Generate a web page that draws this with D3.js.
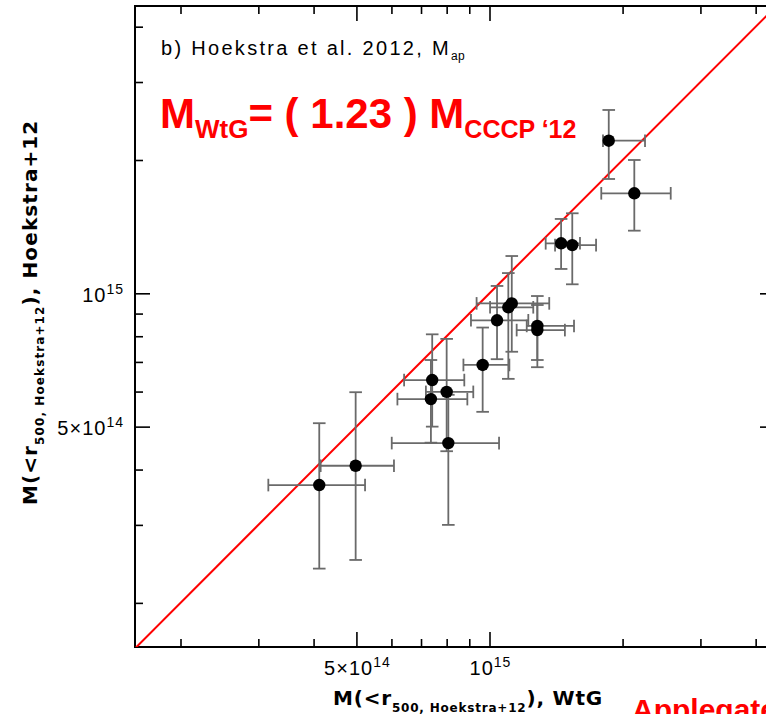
<!DOCTYPE html>
<html><head><meta charset="utf-8">
<script src="https://cdn.jsdelivr.net/npm/d3@7"></script>
<style>body{margin:0;background:#fff;} svg{display:block;}</style>
</head><body>
<svg id="chart" width="766" height="714"></svg>
<script>
// ---- data (masses in units of 1e14 Msun) ----
const massUnit = 1e14;
const xWtG     = [4.12, 4.98, 7.42, 7.37, 8.00, 8.07, 9.65, 10.40, 11.03, 11.23, 12.83, 12.83, 14.52, 15.39, 18.61, 21.26];
const xWtGLow  = [3.16, 4.15, 6.41, 6.19, 7.18, 6.01, 8.73, 9.08, 10.03, 9.35, 12.14, 11.52, 13.40, 14.07, 18.06, 17.90];
const xWtGHigh = [5.23, 6.08, 8.77, 8.91, 9.19, 10.51, 11.09, 12.24, 12.56, 13.65, 15.53, 14.81, 16.02, 17.42, 22.48, 25.70];
const yH12     = [3.69, 4.08, 6.37, 5.77, 5.99, 4.59, 6.89, 8.69, 9.30, 9.49, 8.44, 8.26, 12.97, 12.85, 22.11, 16.82];
const yH12Low  = [2.39, 2.50, 5.00, 4.60, 4.40, 3.00, 5.40, 7.10, 6.41, 7.38, 7.07, 6.81, 11.35, 10.48, 18.12, 13.85];
const yH12High = [5.09, 5.98, 8.08, 7.07, 7.89, 5.90, 8.37, 10.39, 11.11, 12.14, 9.86, 9.41, 14.72, 15.16, 25.94, 20.00];

const xDomain = [1.578e14, 4.424e15];
const yDomain = [1.590e14, 4.454e15];
const majorTicks = [5e14, 1e15];
const majorMantissa = ["5\u00d710", "10"];
const majorExponent = ["14", "15"];
const minorTicks = [2e14, 3e14, 4e14, 6e14, 7e14, 8e14, 9e14, 2e15, 3e15, 4e15];
const lineRatio = 1.0; // one-to-one line

// ---- layout ----
const L = 135, R = 775, T = 6, B = 647;
const svg = d3.select("#chart");
const x = d3.scaleLog().domain(xDomain).range([L, R]);
const y = d3.scaleLog().domain(yDomain).range([B, T]);

svg.append("defs").append("clipPath").attr("id", "clip")
  .append("rect").attr("x", L).attr("y", T).attr("width", R - L).attr("height", B - T);

function styleAxis(g) {
  g.select(".domain").remove();
  g.selectAll(".tick line").attr("stroke", "#000").attr("stroke-width", 1.6);
  g.selectAll(".tick text").remove();
}
const axes = [
  [d3.axisBottom(x), `translate(0,${B})`],
  [d3.axisTop(x), `translate(0,${T})`],
  [d3.axisLeft(y), `translate(${L},0)`],
  [d3.axisRight(y), `translate(${R},0)`]
];
axes.forEach(([ax, tr]) => {
  svg.append("g").attr("transform", tr)
    .call(ax.tickValues(majorTicks).tickSize(-15).tickFormat(() => "")).call(styleAxis);
  svg.append("g").attr("transform", tr)
    .call(ax.tickValues(minorTicks).tickSize(-8).tickFormat(() => "")).call(styleAxis);
});

svg.append("rect").attr("x", L).attr("y", T).attr("width", R - L).attr("height", B - T)
  .attr("fill", "none").attr("stroke", "#000").attr("stroke-width", 2);

// tick labels
const tickFont = "'Liberation Sans', Arial, sans-serif";
function tickLabel(sel, i) {
  sel.attr("font-family", tickFont).attr("font-size", 20).attr("letter-spacing", 1).attr("fill", "#000");
  sel.append("tspan").text(majorMantissa[i]);
  sel.append("tspan").attr("font-size", 14).attr("dy", -8).text(majorExponent[i]);
}
majorTicks.forEach((v, i) => {
  svg.append("text").attr("x", x(v) + 1).attr("y", 675).attr("text-anchor", "middle").call(tickLabel, i);
  svg.append("text").attr("x", 124).attr("y", y(v) + 8.5).attr("text-anchor", "end").call(tickLabel, i);
});

// one-to-one line
const plot = svg.append("g").attr("clip-path", "url(#clip)");
plot.append("line")
  .attr("x1", x(xDomain[0])).attr("y1", y(xDomain[0] * lineRatio))
  .attr("x2", x(xDomain[1])).attr("y2", y(xDomain[1] * lineRatio))
  .attr("stroke", "#ff0000").attr("stroke-width", 2);

// error bars
const cap = 6.3;
const eb = plot.append("g").attr("stroke", "#6a6a6a").attr("stroke-width", 1.8).attr("fill", "none");
xWtG.forEach((xv, i) => {
  const cx = x(xv * massUnit), cy = y(yH12[i] * massUnit);
  const xl = x(xWtGLow[i] * massUnit), xh = x(xWtGHigh[i] * massUnit);
  const yl = y(yH12Low[i] * massUnit), yh = y(yH12High[i] * massUnit);
  eb.append("line").attr("x1", xl).attr("x2", xh).attr("y1", cy).attr("y2", cy);
  eb.append("line").attr("x1", xl).attr("x2", xl).attr("y1", cy - cap).attr("y2", cy + cap);
  eb.append("line").attr("x1", xh).attr("x2", xh).attr("y1", cy - cap).attr("y2", cy + cap);
  eb.append("line").attr("x1", cx).attr("x2", cx).attr("y1", yl).attr("y2", yh);
  eb.append("line").attr("x1", cx - cap).attr("x2", cx + cap).attr("y1", yl).attr("y2", yl);
  eb.append("line").attr("x1", cx - cap).attr("x2", cx + cap).attr("y1", yh).attr("y2", yh);
});
plot.append("g").selectAll("circle").data(xWtG).join("circle")
  .attr("cx", d => x(d * massUnit)).attr("cy", (d, i) => y(yH12[i] * massUnit))
  .attr("r", 6.2).attr("fill", "#000");

// panel title
const title = svg.append("text").attr("x", 161).attr("y", 55)
  .attr("font-family", tickFont).attr("font-size", 20).attr("letter-spacing", 2.3).attr("fill", "#000");
title.append("tspan").text("b) Hoekstra et al. 2012, M");
title.append("tspan").attr("font-size", 12).attr("dy", 5).attr("letter-spacing", 0.5).text("ap");

// red relation
const redFont = "'Liberation Sans', Arial, sans-serif";
const rel = svg.append("text").attr("x", 160).attr("y", 128)
  .attr("font-family", redFont).attr("font-weight", "bold").attr("font-size", 42).attr("fill", "#ff0000");
rel.append("tspan").text("M");
rel.append("tspan").attr("font-size", 26).attr("dy", 10).text("WtG");
rel.append("tspan").attr("dy", -10).text("= ( 1.23 ) M");
rel.append("tspan").attr("font-size", 25).attr("dy", 10).text("CCCP \u201812");

// axis labels
const labFont = "'DejaVu Sans', sans-serif";
const xlab = svg.append("text").attr("x", 333).attr("y", 705)
  .attr("font-family", labFont).attr("font-weight", "bold").attr("font-size", 20)
  .attr("letter-spacing", 0.8).attr("fill", "#000");
xlab.append("tspan").text("M(<r");
xlab.append("tspan").attr("font-size", 12).attr("dy", 7).text("500, Hoekstra+12");
xlab.append("tspan").attr("dy", -7).text("),  WtG");

const ylab = svg.append("text").attr("transform", "translate(37,505) rotate(-90)")
  .attr("font-family", labFont).attr("font-weight", "bold").attr("font-size", 20)
  .attr("letter-spacing", 1.1).attr("fill", "#000");
ylab.append("tspan").text("M(<r");
ylab.append("tspan").attr("font-size", 12).attr("dy", 7).text("500, Hoekstra+12");
ylab.append("tspan").attr("dy", -7).text("),  Hoekstra+12");

// red annotation, cropped by the picture edge as in the reference
svg.append("text").attr("x", 632).attr("y", 720)
  .attr("font-family", redFont).attr("font-weight", "bold").attr("font-size", 30).attr("fill", "#ff0000")
  .text("Applegate et al.");
</script>
</body></html>
